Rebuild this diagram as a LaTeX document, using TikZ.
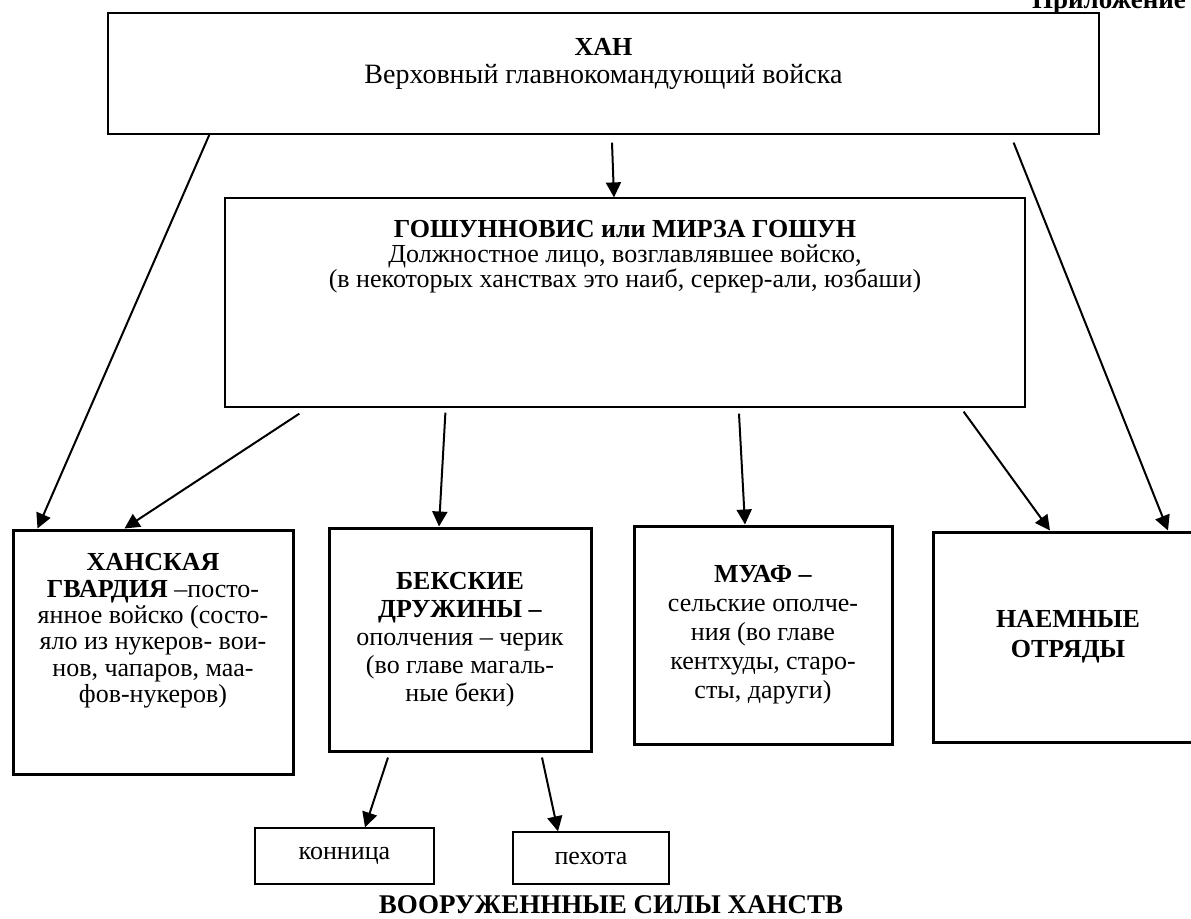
\documentclass[tikz,border=0pt]{standalone}
\usepackage{fontspec}
\setmainfont{Liberation Serif}
\usetikzlibrary{arrows.meta,calc}
\begin{document}
\begin{tikzpicture}[x=0.5pt,y=-0.5pt,
    thinbox/.style={draw,line width=0.6pt,inner sep=0pt},
    thickbox/.style={draw,line width=1.5pt,align=center,inner sep=0pt},
    smallbox/.style={draw,line width=0.65pt,inner sep=0pt,font=\fontsize{13}{15}\selectfont},
    boxtext/.style={align=center,inner sep=0pt,anchor=north},
    arr/.style={line width=1pt,-{Triangle[length=7.5pt,width=7.5pt]}}]
\useasboundingbox (0,0) rectangle (1191,918);

\node[anchor=base east,font=\fontsize{13.5}{15}\selectfont\bfseries] (appx) at (1193,8) {Приложение};

\node[thinbox,minimum width=495.5pt,minimum height=60.5pt] (khan) at (603.5,73.5) {};
\node[boxtext,font=\fontsize{14}{14}\selectfont] (khantext) at (603.5,38)
    {\textbf{\fontsize{13}{14}\selectfont ХАН}\\Верховный главнокомандующий войска};

\node[thinbox,minimum width=400pt,minimum height=104.5pt] (gosh) at (625,302.5) {};
\node[boxtext,font=\fontsize{13}{12.5}\selectfont] (goshtext) at (625,220)
    {\textbf{ГОШУННОВИС или МИРЗА ГОШУН}\\Должностное лицо, возглавлявшее войско,\\(в некоторых ханствах это наиб, серкер-али, юзбаши)};

\node[thickbox,minimum width=140pt,minimum height=122pt] (guard) at (153,652) {};
\node[boxtext,font=\fontsize{13}{13.2}\selectfont] (guardtext) at (153,553)
    {\textbf{ХАНСКАЯ}\\\textbf{ГВАРДИЯ} –посто-\\янное войско (состо-\\яло из нукеров- вои-\\нов, чапаров, маа-\\фов-нукеров)};

\node[thickbox,minimum width=131pt,minimum height=111.5pt,font=\fontsize{13}{14}\selectfont] (bek) at (460,639.5)
    {\textbf{БЕКСКИЕ}\\\textbf{ДРУЖИНЫ –}\\ополчения – черик\\(во главе магаль-\\ные беки)};

\node[thickbox,minimum width=129pt,minimum height=109pt,font=\fontsize{13}{14.5}\selectfont] (muaf) at (763,635)
    {\textbf{МУАФ –}\\сельские ополче-\\ния (во главе\\кентхуды, старо-\\сты, даруги)};

\node[thickbox,minimum width=135pt,minimum height=105pt,font=\fontsize{13}{15}\selectfont\bfseries] (naem) at (1068,637)
    {НАЕМНЫЕ\\ОТРЯДЫ};

\node[smallbox,minimum width=89.5pt,minimum height=28pt] (kon) at (344.5,856) {конница};
\node[smallbox,minimum width=78pt,minimum height=26pt] (pex) at (591,858) {пехота};

\node[anchor=base,font=\fontsize{13.5}{15}\selectfont\bfseries] (title) at (611,913) {ВООРУЖЕНННЫЕ СИЛЫ ХАНСТВ};

\draw[arr] ($(khan.south west)+(102,0)$) -- ($(guard.north west)+(26,0)$);
\draw[arr] ($(khan.south)+(8.5,8)$) -- ($(gosh.north)+(-11,0)$);
\draw[arr] ($(khan.south east)+(-86,8)$) -- ($(naem.north)+(100,0)$);
\draw[arr] ($(gosh.south west)+(75,6)$) -- ($(guard.north west)+(113,0)$);
\draw[arr] ($(gosh.south west)+(221,5)$) -- ($(bek.north)+(-21,0)$);
\draw[arr] ($(gosh.south)+(114,6)$) -- ($(muaf.north)+(-18,0)$);
\draw[arr] ($(gosh.south east)+(-62,4)$) -- ($(naem.north)+(-18,0)$);
\draw[arr] ($(bek.south)+(-72,5)$) -- ($(kon.north)+(20.5,0)$);
\draw[arr] ($(bek.south)+(82,5)$) -- ($(pex.north)+(-33,0)$);
\end{tikzpicture}
\end{document}
